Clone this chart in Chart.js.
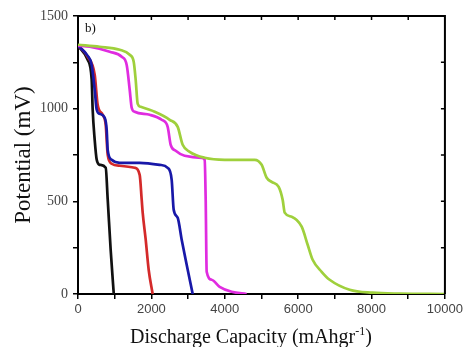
<!DOCTYPE html>
<html>
<head>
<meta charset="utf-8">
<script src="https://cdn.jsdelivr.net/npm/chart.js@4"></script>
<style>
  html, body { margin: 0; padding: 0; background: #fff; }
  #wrap { width: 466px; height: 347px; position: relative; }
</style>
</head>
<body>
<div id="wrap"><canvas id="dischargeChart"></canvas></div>
<script>
// Discharge curves (capacity in mAh/g, potential in mV)
const blackCap = [0, 264, 373, 400, 455, 510, 590, 755, 810, 890, 975];
const blackMv  = [1340, 1264, 1156, 994, 832, 724, 697, 681, 509, 239, 0];

const redCap = [0, 264, 455, 537, 673, 755, 810, 918, 1136, 1545, 1681, 1736, 1763, 1845, 1926, 2035];
const redMv  = [1340, 1280, 1183, 1020, 967, 913, 751, 703, 692, 681, 643, 509, 439, 293, 131, 0];

const blueCap = [0, 264, 373, 455, 510, 591, 728, 782, 809, 918, 1136, 1681, 2226, 2444, 2553, 2608, 2717, 2826, 2962, 3126];
const blueMv  = [1340, 1285, 1236, 1102, 994, 972, 951, 886, 778, 724, 708, 708, 697, 681, 616, 455, 411, 293, 158, 0];

const magentaCap = [0, 319, 864, 1191, 1327, 1409, 1463, 1545, 1954, 2281, 2444, 2526, 2662, 2907, 3371, 3452, 3480, 3507, 3643, 3861, 4188, 4597];
const magentaMv  = [1340, 1334, 1307, 1280, 1236, 1102, 1005, 983, 967, 940, 902, 805, 773, 746, 735, 724, 508, 120, 77, 39, 12, 0];

const greenCap = [0, 591, 1136, 1409, 1518, 1572, 1627, 1708, 2090, 2499, 2717, 2853, 3043, 3452, 3997, 4815, 5005, 5142, 5278, 5469, 5578, 5633, 5823, 6096, 6259, 6395, 6640, 6858, 7403, 8030, 8766, 10000];
const greenMv  = [1345, 1334, 1318, 1291, 1253, 1156, 1026, 1010, 983, 940, 902, 805, 767, 735, 724, 724, 697, 627, 605, 578, 508, 439, 417, 363, 266, 185, 120, 77, 23, 7, 2, 0];

const xTicks = [0, 2000, 4000, 6000, 8000, 10000];
const yTicks = [0, 500, 1000, 1500];

const toPoints = (xs, ys) => xs.map((x, i) => ({ x, y: ys[i] }));

function series(label, xs, ys, color) {
  return {
    label,
    data: toPoints(xs, ys),
    borderColor: color,
    backgroundColor: color,
    borderWidth: 2.7,
    pointRadius: 0,
    showLine: true,
    cubicInterpolationMode: 'monotone',
  };
}

// frame on top/right with inward ticks, plus the axis titles and panel label
const framePlugin = {
  id: 'frame',
  afterDraw(chart) {
    const { ctx, chartArea: a, scales: { x, y } } = chart;
    ctx.save();
    ctx.strokeStyle = '#000';
    ctx.lineWidth = 2;
    ctx.beginPath();
    ctx.moveTo(a.left, a.top);
    ctx.lineTo(a.right, a.top);
    ctx.lineTo(a.right, a.bottom);
    ctx.stroke();

    ctx.lineWidth = 1.5;
    ctx.beginPath();
    for (let v = 1000; v < 10000; v += 1000) {
      const px = x.getPixelForValue(v);
      ctx.moveTo(px, a.top);
      ctx.lineTo(px, a.top + 4);
    }
    for (let v = 250; v < 1500; v += 250) {
      const py = y.getPixelForValue(v);
      ctx.moveTo(a.right, py);
      ctx.lineTo(a.right - 4, py);
    }
    ctx.stroke();

    ctx.fillStyle = '#111';
    ctx.font = '13px "Liberation Serif", serif';
    ctx.textBaseline = 'alphabetic';
    ctx.fillText('b)', 85, 32);

    // x title with superscript
    const main = 'Discharge Capacity (mAhgr';
    ctx.font = '20px "Liberation Serif", serif';
    const w1 = ctx.measureText(main).width;
    ctx.font = '12px "Liberation Serif", serif';
    const w2 = ctx.measureText('-1').width;
    ctx.font = '20px "Liberation Serif", serif';
    const w3 = ctx.measureText(')').width;
    let tx = 251 - (w1 + w2 + w3) / 2;
    ctx.fillText(main, tx, 343);
    tx += w1;
    ctx.font = '12px "Liberation Serif", serif';
    ctx.fillText('-1', tx, 335);
    tx += w2;
    ctx.font = '20px "Liberation Serif", serif';
    ctx.fillText(')', tx, 343);

    // y title
    ctx.translate(24, (a.top + a.bottom) / 2);
    ctx.rotate(-Math.PI / 2);
    ctx.font = '23px "Liberation Serif", serif';
    ctx.textAlign = 'center';
    ctx.textBaseline = 'middle';
    ctx.fillText('Potential (mV)', 0, 0);
    ctx.restore();
  },
};

new Chart(document.getElementById('dischargeChart'), {
  type: 'scatter',
  data: {
    datasets: [
      series('a', greenCap, greenMv, '#9fd03c'),
      series('b', magentaCap, magentaMv, '#e02ce0'),
      series('c', blueCap, blueMv, '#1818a8'),
      series('d', redCap, redMv, '#d42a2a'),
      series('e', blackCap, blackMv, '#111111'),
    ],
  },
  options: {
    responsive: true,
    maintainAspectRatio: false,
    animation: false,
    layout: { padding: { top: 16, right: 20, left: 0, bottom: 0 } },
    plugins: { legend: { display: false }, tooltip: { enabled: false } },
    scales: {
      x: {
        type: 'linear',
        min: 0,
        max: 10000,
        afterFit: s => { s.height = 53; },
        afterBuildTicks: s => {
          s.ticks = [];
          for (let v = 0; v <= 10000; v += 1000) s.ticks.push({ value: v });
        },
        ticks: {
          callback: v => (xTicks.includes(v) ? String(v) : ''),
          color: '#444',
          padding: 3,
          maxRotation: 0,
          autoSkip: false,
          font: { family: '"Liberation Sans", Arial, sans-serif', size: 13 },
        },
        grid: { drawOnChartArea: false, color: '#000', lineWidth: 1.5, tickLength: 5 },
        border: { color: '#000', width: 2 },
      },
      y: {
        type: 'linear',
        min: 0,
        max: 1500,
        afterFit: s => { s.width = 78; },
        afterBuildTicks: s => {
          s.ticks = [];
          for (let v = 0; v <= 1500; v += 250) s.ticks.push({ value: v });
        },
        ticks: {
          callback: v => (yTicks.includes(v) ? String(v) : ''),
          color: '#444',
          padding: 5,
          autoSkip: false,
          font: { family: '"Liberation Serif", serif', size: 14 },
        },
        grid: { drawOnChartArea: false, color: '#000', lineWidth: 1.5, tickLength: 5 },
        border: { color: '#000', width: 2 },
      },
    },
  },
  plugins: [framePlugin],
});
</script>
</body>
</html>
